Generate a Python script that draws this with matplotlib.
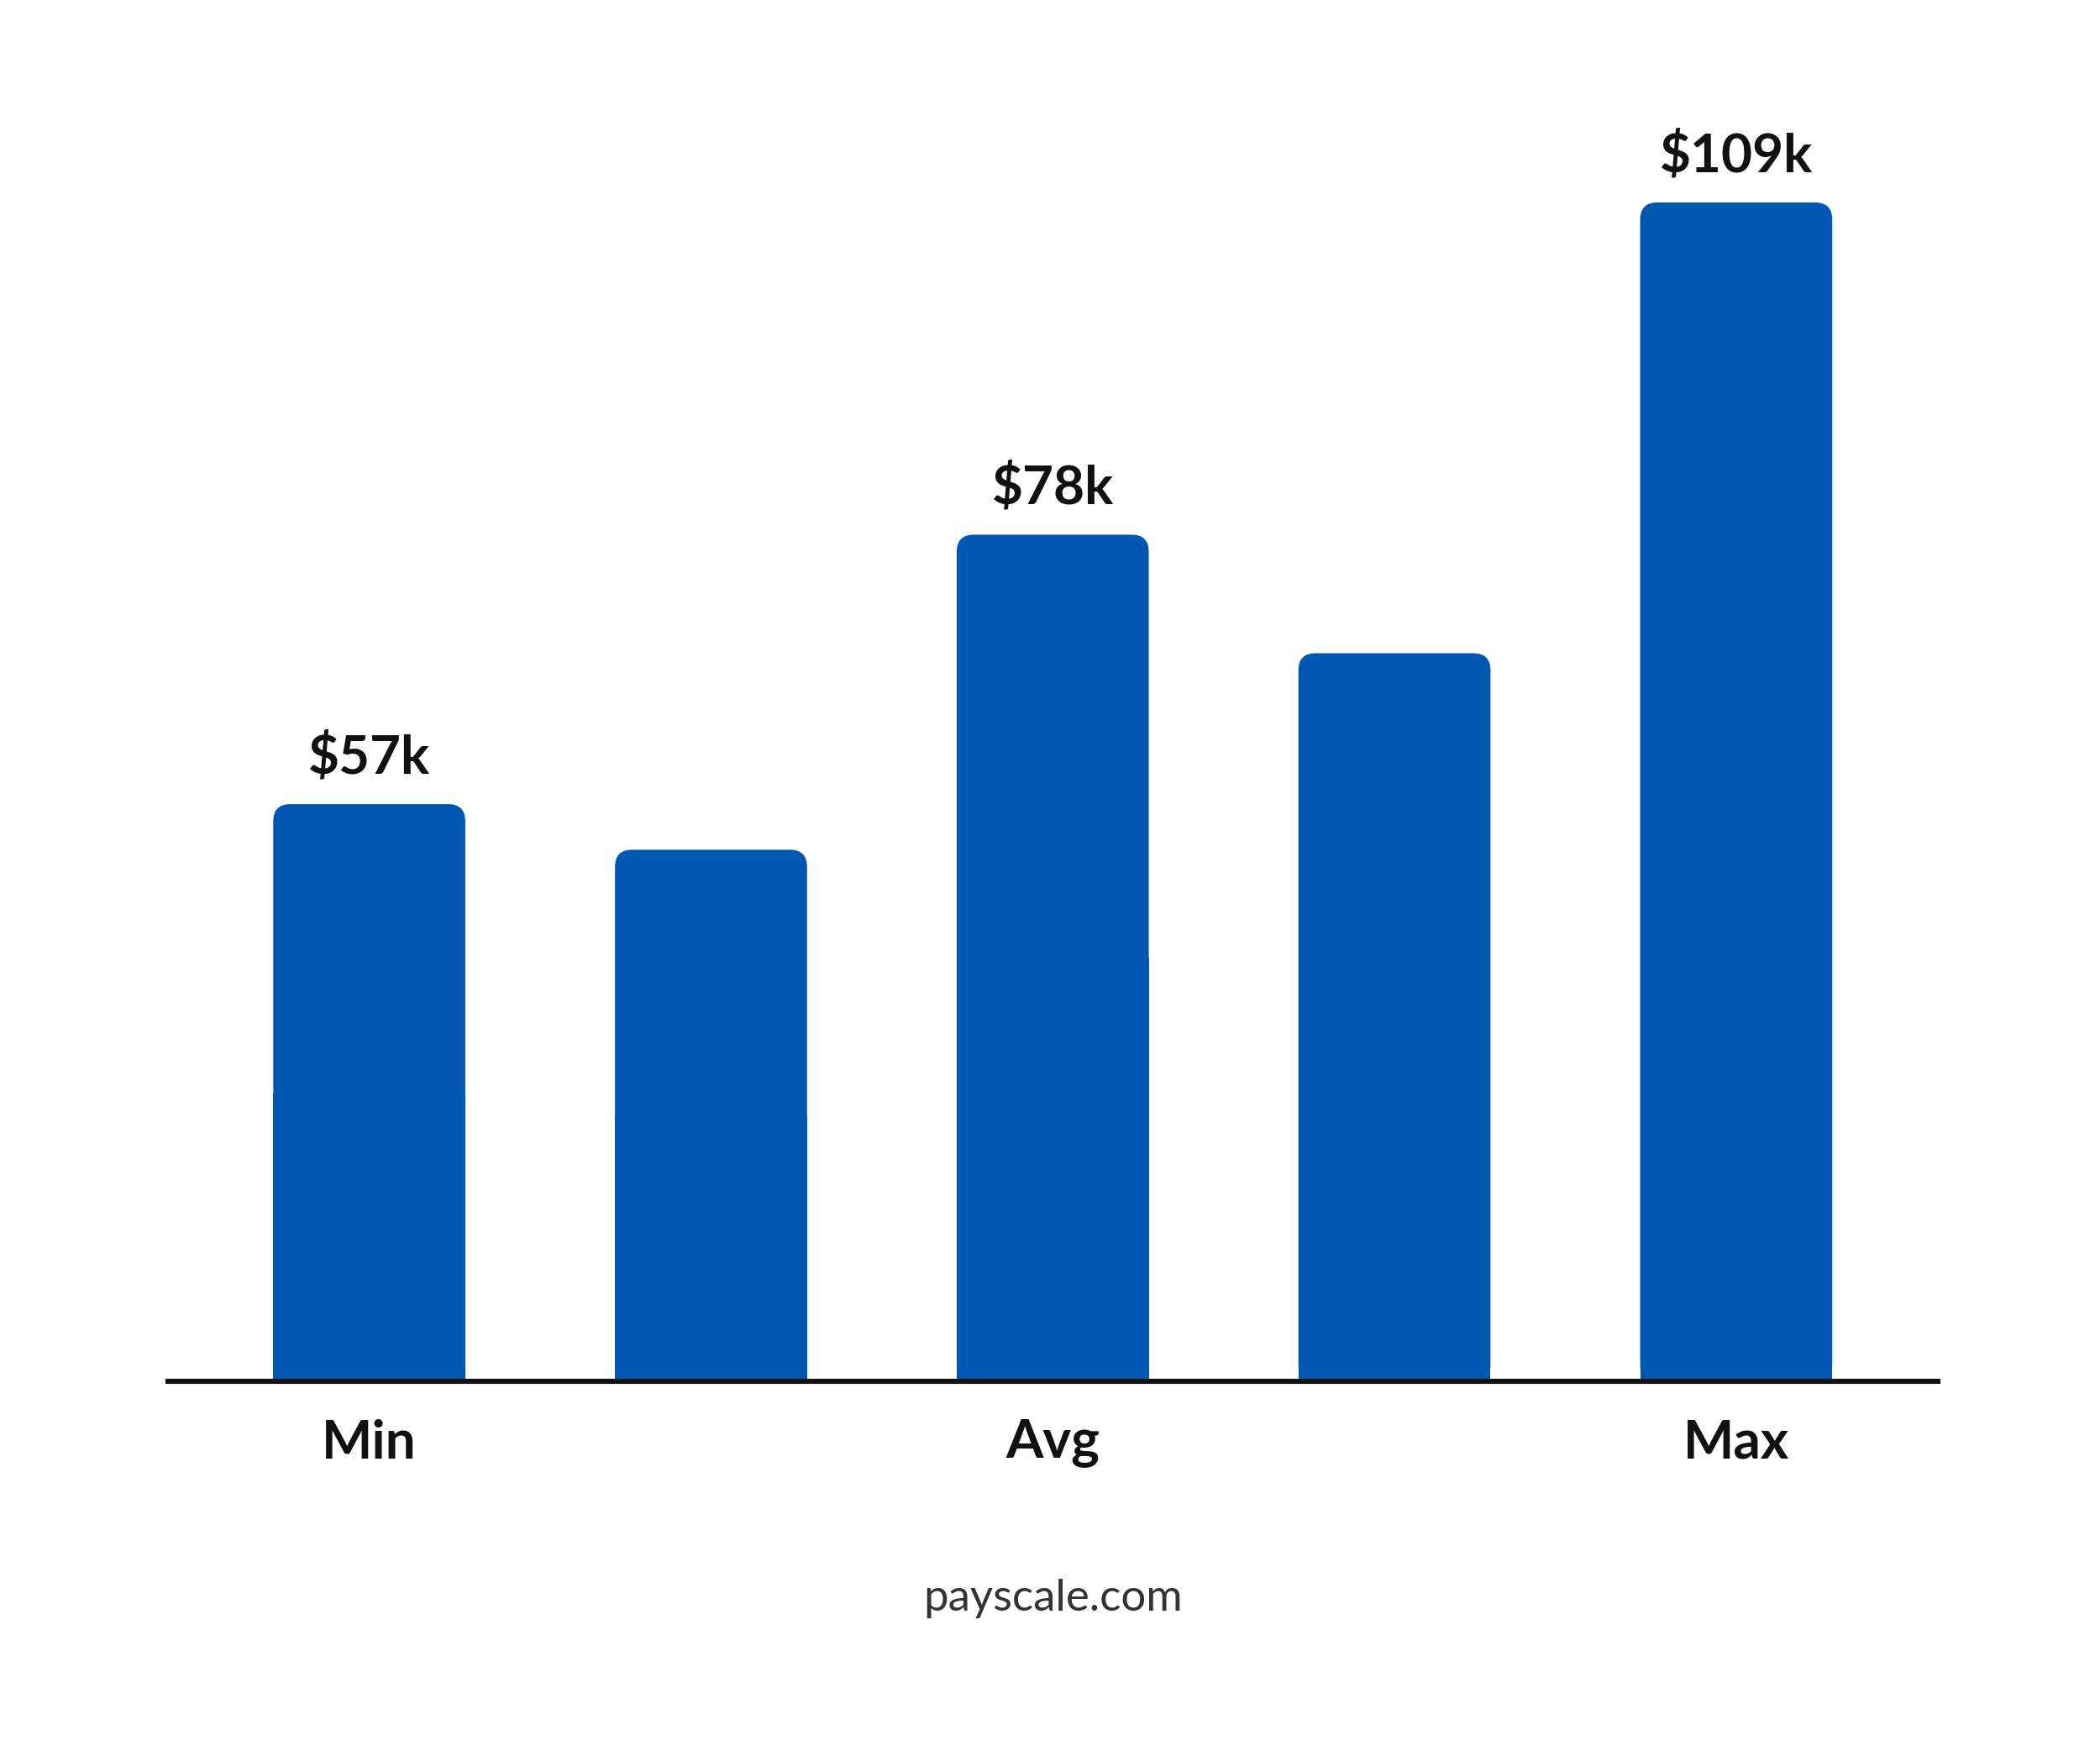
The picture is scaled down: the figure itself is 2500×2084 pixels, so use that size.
import matplotlib.pyplot as plt
from matplotlib.patches import FancyBboxPatch, Rectangle

# salary bars (k$)
positions = [0, 1, 2, 3, 4]
values = [57, 52.5, 83.6, 71.9, 116.4]
value_labels = ["$57k", "", "$78k", "", "$109k"]
tick_labels = ["Min", "", "Avg", "", "Max"]

BAR_COLOR = "#0057B2"
plt.rcParams["font.family"] = ["Lato", "DejaVu Sans"]

fig = plt.figure(figsize=(12.5, 10.42), dpi=200)
ax = fig.add_axes([0.08, 0.211, 0.8426, 0.689])
ax.set_xlim(-0.589, 4.589)
ax.set_ylim(0, 119.1)
ax.axis("off")

width = 0.562
aspect = 119.1 / 5.178 * (0.8426 * 12.5) / (0.689 * 10.42)
for x, v, lab in zip(positions, values, value_labels):
    ax.add_patch(FancyBboxPatch((x - width / 2, 0), width, v,
                                boxstyle="round,pad=0,rounding_size=0.05",
                                mutation_aspect=aspect, fc=BAR_COLOR, ec="none"))
    ax.add_patch(Rectangle((x - width / 2, 0), width, v / 2, fc=BAR_COLOR, ec="none"))
    if lab:
        ax.text(x, v + 2.2, lab, ha="center", va="bottom",
                fontsize=23, fontweight="bold", color="#111111")

ax.plot([-0.589, 4.589], [0, 0], color="#111111", lw=2.2, clip_on=False)

for x, lab in zip(positions, tick_labels):
    if lab:
        fx = 0.08 + 0.8426 * (x + 0.589) / 5.178
        fig.text(fx, 0.176, lab, ha="center", va="center",
                 fontsize=23, fontweight="bold", color="#111111")

fig.text(0.5015, 0.087, "payscale.com", ha="center", va="center",
         fontsize=19, color="#333333")

fig.savefig("out.png", dpi=200, facecolor="white")
